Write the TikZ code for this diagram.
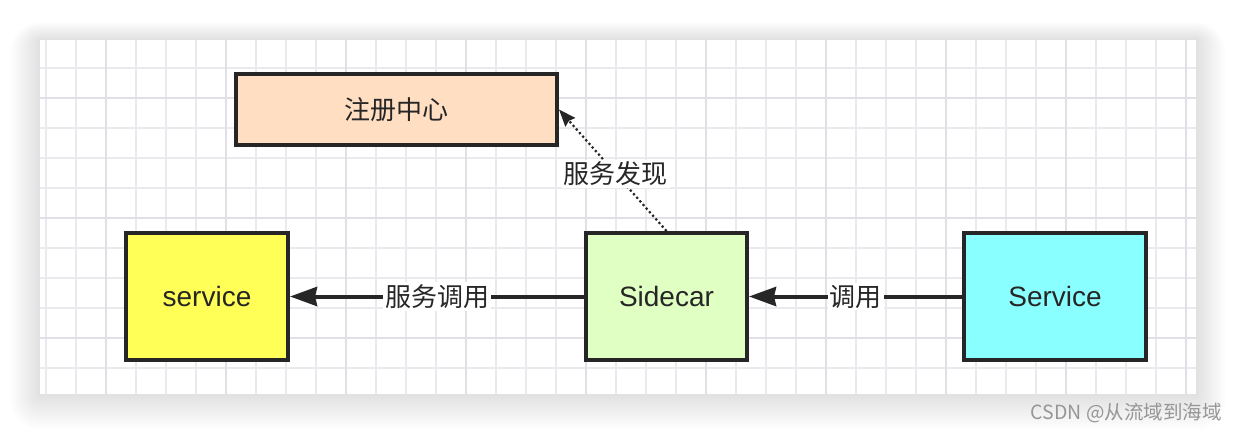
\documentclass[tikz,border=0pt]{standalone}
\usepackage{fontspec}
\setmainfont{Liberation Sans}
\newfontfamily\cjk{Noto Sans CJK SC}
\usetikzlibrary{arrows.meta}
\definecolor{ink}{RGB}{38,38,38}
\definecolor{gridminor}{RGB}{235,233,237}
\definecolor{gridmajor}{RGB}{226,224,230}
\definecolor{regfill}{RGB}{255,222,194}
\definecolor{yelfill}{RGB}{255,255,88}
\definecolor{grnfill}{RGB}{224,255,194}
\definecolor{cyanfill}{RGB}{138,255,255}
\definecolor{wmark}{RGB}{150,150,150}
\tikzset{
  box/.style={draw=ink, line width=4pt, inner sep=0pt, font=\fontsize{28}{32}\selectfont, text=ink},
  cjkbox/.style={box, font=\cjk\fontsize{26}{30}\selectfont},
  callarrow/.style={draw=ink, line width=4pt, -{Stealth[length=27pt,width=19pt,inset=2pt]}},
  findarrow/.style={draw=ink, line width=2.2pt, dash pattern=on 2.2pt off 2.6pt, -{Stealth[length=17pt,width=13pt,inset=2pt]}},
  lbl/.style={fill=white, inner sep=2pt, font=\cjk\fontsize{26}{30}\selectfont, text=ink},
}
\begin{document}
\begin{tikzpicture}[x=1pt, y=-1pt]
\useasboundingbox (0,0) rectangle (1236,434);
\fill[white] (0,0) rectangle (1236,434);
% soft shadow of the panel
\foreach \s in {1,2,...,30} {
  \pgfmathsetmacro{\xa}{40-\s}
  \pgfmathsetmacro{\ya}{40-0.6*\s}
  \pgfmathsetmacro{\xb}{1196+\s}
  \pgfmathsetmacro{\yb}{394+1.2*\s}
  \fill[black, opacity=0.0045, rounded corners=\s pt] (\xa,\ya) rectangle (\xb,\yb);
}
\fill[white] (40,40) rectangle (1196,394);
% grid
\begin{scope}
\clip (40,40) rectangle (1196,394);
\foreach \gx in {46,76,...,1186} {\draw[gridminor, line width=2pt] (\gx,40) -- (\gx,394);}
\foreach \gy in {68,98,...,368} {\draw[gridminor, line width=2pt] (40,\gy) -- (1196,\gy);}
\foreach \gx in {106,226,...,1186} {\draw[gridmajor, line width=2.4pt] (\gx,40) -- (\gx,394);}
\foreach \gy in {98,218,338} {\draw[gridmajor, line width=2.4pt] (40,\gy) -- (1196,\gy);}
\end{scope}
% nodes
\node[cjkbox, fill=regfill, minimum width=321pt, minimum height=71pt] (reg) at (396.5,109.5) {注册中心};
\node[box, fill=yelfill, minimum width=162pt, minimum height=127pt] (svcL) at (207,296.5) {service};
\node[box, fill=grnfill, minimum width=161pt, minimum height=127pt] (side) at (666.5,296.5) {Sidecar};
\node[box, fill=cyanfill, minimum width=182pt, minimum height=127pt] (svcR) at (1055,296.5) {Service};
% connectors
\draw[callarrow] (side.west) -- node[lbl] {服务调用} (svcL.east);
\draw[callarrow] (svcR.west) -- node[lbl] {调用} (side.east);
\draw[findarrow] (side.north) -- node[lbl, pos=0.47] {服务发现} (reg.east);
% watermark
\node[anchor=east, text=wmark, font=\cjk\fontsize{19.5}{22}\selectfont, inner sep=0pt] (wm) at (1222,413) {CSDN @从流域到海域};
\end{tikzpicture}
\end{document}
